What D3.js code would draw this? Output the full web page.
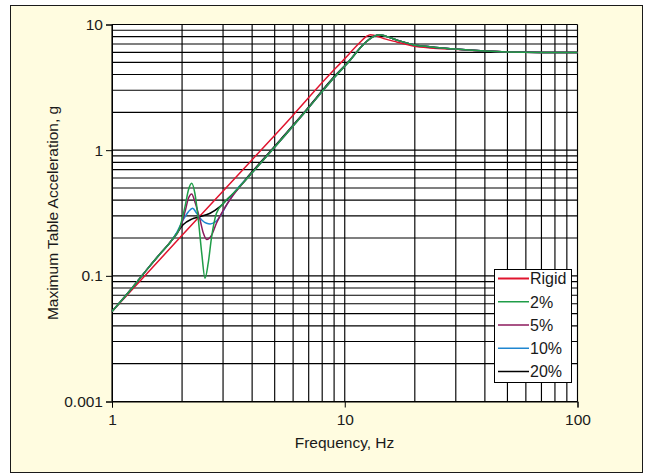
<!DOCTYPE html>
<html>
<head>
<meta charset="utf-8">
<script src="https://cdn.jsdelivr.net/npm/d3@7"></script>
<style>
  html, body { margin: 0; padding: 0; background: #ffffff; }
  svg { display: block; font-family: "Liberation Sans", Arial, sans-serif; }
</style>
</head>
<body>
<svg id="chart" width="649" height="475"></svg>
<script>
// Shake-table response: maximum table acceleration vs. drive frequency
const seriesNames = ["Rigid", "2%", "5%", "10%", "20%"];
const seriesColors = ["#e0142e", "#1f9d48", "#8c1a5c", "#1f86d0", "#000000"];

const freqRigid = [1, 2, 4, 6, 8, 10, 11.5, 12.4, 12.9, 13.5, 15, 16.7, 19.7, 23.2, 30.8, 40, 50, 70, 100];
const accRigid  = [0.052, 0.21, 0.84, 1.9, 3.45, 5.35, 7.05, 8.05, 8.3, 8.15, 7.65, 7.26, 6.74, 6.5, 6.33, 6.15, 6.05, 6.0, 6.0];

const freq2 = [1, 1.2, 1.4, 1.6, 1.8, 1.96, 2.06, 2.13, 2.2, 2.27, 2.35, 2.43, 2.51, 2.59, 2.68, 2.81, 3.01, 3.32, 3.92, 4.47, 6.87, 8.93, 10.55, 11.98, 13.25, 14.07, 14.9, 16.7, 19.7, 23.2, 30.8, 40, 50, 70, 100];
const acc2  = [0.052, 0.077, 0.11, 0.148, 0.19, 0.246, 0.357, 0.482, 0.545, 0.454, 0.278, 0.151, 0.0957, 0.126, 0.205, 0.315, 0.378, 0.454, 0.634, 0.834, 2.09, 3.72, 5.2, 6.87, 8.0, 8.29, 8.1, 7.53, 6.91, 6.66, 6.35, 6.15, 6.05, 6.0, 6.0];

const freq5 = [1, 1.2, 1.4, 1.6, 1.8, 1.96, 2.06, 2.13, 2.2, 2.27, 2.39, 2.47, 2.55, 2.68, 2.81, 3.01, 3.32, 3.92, 4.47, 6.87, 8.93, 10.55, 11.98, 13.25, 14.07, 14.9, 16.7, 19.7, 23.2, 30.8, 40, 50, 70, 100];
const acc5  = [0.052, 0.077, 0.11, 0.148, 0.19, 0.24, 0.324, 0.414, 0.448, 0.389, 0.278, 0.218, 0.195, 0.211, 0.262, 0.334, 0.44, 0.634, 0.834, 2.09, 3.72, 5.2, 6.87, 8.0, 8.29, 8.1, 7.53, 6.91, 6.66, 6.35, 6.15, 6.05, 6.0, 6.0];

const freq10 = [1, 1.2, 1.4, 1.6, 1.8, 1.9, 2.02, 2.13, 2.22, 2.31, 2.43, 2.55, 2.64, 2.77, 2.91, 3.11, 3.32, 3.92, 4.47, 6.87, 8.93, 10.55, 11.98, 13.25, 14.07, 14.9, 16.7, 19.7, 23.2, 30.8, 40, 50, 70, 100];
const acc10  = [0.052, 0.077, 0.11, 0.148, 0.19, 0.222, 0.278, 0.324, 0.345, 0.315, 0.278, 0.262, 0.259, 0.267, 0.296, 0.367, 0.448, 0.634, 0.834, 2.09, 3.72, 5.2, 6.87, 8.0, 8.29, 8.1, 7.53, 6.91, 6.66, 6.35, 6.15, 6.05, 6.0, 6.0];

const freq20 = [1, 1.2, 1.4, 1.6, 1.8, 1.897, 2.02, 2.2, 2.39, 2.64, 2.91, 3.16, 3.43, 3.92, 4.47, 6.87, 8.93, 10.55, 11.98, 13.25, 14.07, 14.9, 16.7, 19.7, 23.2, 30.8, 40, 50, 70, 100];
const acc20  = [0.052, 0.077, 0.11, 0.148, 0.19, 0.218, 0.255, 0.283, 0.296, 0.315, 0.355, 0.414, 0.48, 0.645, 0.85, 2.12, 3.78, 5.25, 6.9, 8.0, 8.29, 8.1, 7.53, 6.91, 6.66, 6.35, 6.15, 6.05, 6.0, 6.0];

const xTickValues = [1, 10, 100];
const xTickLabels = ["1", "10", "100"];
const yTickValues = [0.01, 0.1, 1, 10];
const yTickLabels = ["0.001", "0.1", "1", "10"];

const xTitle = "Frequency, Hz";
const yTitle = "Maximum Table Acceleration, g";

const svg = d3.select("#chart");

// Panel background and frame
svg.append("rect").attr("x", 10.5).attr("y", 5.5).attr("width", 632).attr("height", 467)
  .attr("fill", "#fffce0").attr("stroke", "#1a1a1a").attr("stroke-width", 1);

const x = d3.scaleLog().domain([1, 100]).range([112, 577.5]);
const y = d3.scaleLog().domain([0.01, 10]).range([401.5, 24.5]);

// Plot area
svg.append("rect")
  .attr("x", x.range()[0]).attr("y", y.range()[1])
  .attr("width", x.range()[1] - x.range()[0])
  .attr("height", y.range()[0] - y.range()[1])
  .attr("fill", "#ffffff");

// Log grid (major and minor)
const grid = svg.append("g").attr("stroke", "#000").attr("stroke-width", 1.15);
grid.selectAll("line.gx").data(x.ticks()).join("line")
  .attr("class", "gx")
  .attr("x1", d => x(d)).attr("x2", d => x(d))
  .attr("y1", y.range()[1]).attr("y2", y.range()[0]);
grid.selectAll("line.gy").data(y.ticks()).join("line")
  .attr("class", "gy")
  .attr("y1", d => y(d)).attr("y2", d => y(d))
  .attr("x1", x.range()[0]).attr("x2", x.range()[1]);

// Axes
const xAxis = d3.axisBottom(x).tickValues(xTickValues)
  .tickFormat((d, i) => xTickLabels[i]).tickSize(6).tickPadding(6);
const yAxis = d3.axisLeft(y).tickValues(yTickValues)
  .tickFormat((d, i) => yTickLabels[i]).tickSize(6).tickPadding(3);

const gx = svg.append("g").attr("transform", `translate(0,${y.range()[0]})`).call(xAxis);
const gy = svg.append("g").attr("transform", `translate(${x.range()[0]},0)`).call(yAxis);
[gx, gy].forEach(g => {
  g.selectAll("text").attr("font-size", 15.5).attr("fill", "#1a1a1a")
    .attr("font-family", "'Liberation Sans', Arial, sans-serif");
  g.selectAll("line").attr("stroke", "#000");
  g.select(".domain").attr("stroke", "#000");
});

// Axis titles
svg.append("text").attr("x", 344.5).attr("y", 448)
  .attr("text-anchor", "middle").attr("font-size", 15.5).attr("fill", "#1a1a1a")
  .text(xTitle);
svg.append("text")
  .attr("transform", "translate(58,213) rotate(-90)")
  .attr("text-anchor", "middle").attr("font-size", 15.5).attr("fill", "#1a1a1a")
  .text(yTitle);

// Response curves
const series = [
  { name: "Rigid", f: freqRigid, a: accRigid },
  { name: "2%", f: freq2, a: acc2 },
  { name: "5%", f: freq5, a: acc5 },
  { name: "10%", f: freq10, a: acc10 },
  { name: "20%", f: freq20, a: acc20 }
];
const color = d3.scaleOrdinal().domain(seriesNames).range(seriesColors);
const line = d3.line().x(d => x(d[0])).y(d => y(d[1])).curve(d3.curveMonotoneX);

const drawOrder = ["Rigid", "20%", "10%", "5%", "2%"];
const curves = svg.append("g").attr("fill", "none");
drawOrder.forEach(name => {
  const s = series.find(t => t.name === name);
  curves.append("path")
    .datum(s.f.map((f, i) => [f, s.a[i]]))
    .attr("d", line)
    .attr("stroke", color(name))
    .attr("stroke-width", 1.5)
    .attr("stroke-linejoin", "round");
});

// Legend
const legend = svg.append("g");
legend.append("rect").attr("x", 494.5).attr("y", 269.5).attr("width", 77).attr("height", 113)
  .attr("fill", "#ffffff").attr("stroke", "#000").attr("stroke-width", 1);
const rowY = d3.scalePoint().domain(seriesNames).range([278.5, 371.5]);
seriesNames.forEach(name => {
  legend.append("line")
    .attr("x1", 498).attr("x2", 529)
    .attr("y1", rowY(name)).attr("y2", rowY(name))
    .attr("stroke", color(name)).attr("stroke-width", name === "Rigid" ? 2 : 1.5);
  legend.append("text")
    .attr("x", 530).attr("y", rowY(name)).attr("dy", "0.36em")
    .attr("font-size", 16).attr("fill", "#1a1a1a")
    .text(name);
});
</script>
</body>
</html>
